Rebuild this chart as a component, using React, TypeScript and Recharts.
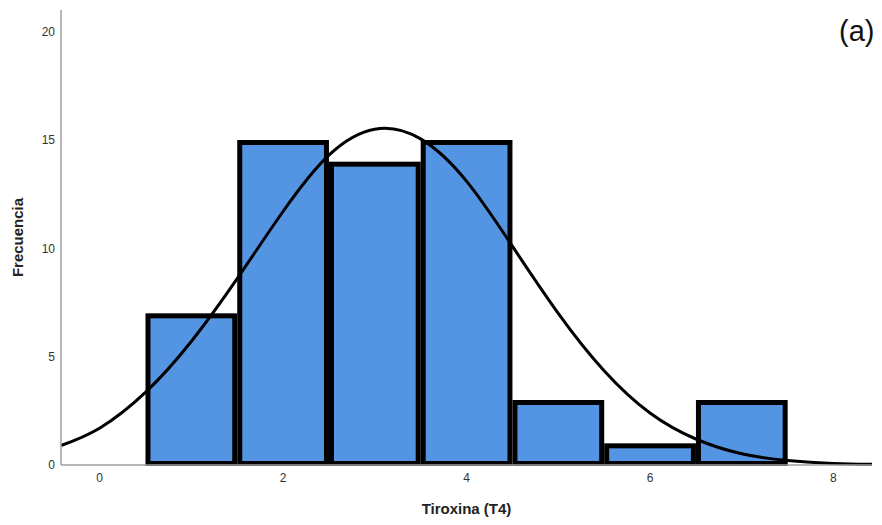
import { Bar, ComposedChart, Line, XAxis, YAxis } from "recharts";

// histogram bins (bin centres, width 1)
const binCenters = [1, 2, 3, 4, 5, 6, 7];
const binCounts = [7, 15, 14, 15, 3, 1, 3];

// normal curve
const curveX = [-0.42, 0, 0.5, 1, 1.5, 2, 2.5, 3, 3.5, 4, 4.5, 5, 5.5, 6, 6.5, 7, 7.5, 8, 8.42];
const curveY = [0.9, 1.7, 3.35, 5.7, 8.6, 11.7, 14.3, 15.5, 15.05, 13.1, 10.1, 7.0, 4.35, 2.4, 1.2, 0.52, 0.21, 0.07, 0.03];

const xTicks = [0, 2, 4, 6, 8];
const yTicks = [0, 5, 10, 15, 20];

const X_MIN = -0.42;
const X_MAX = 8.42;
const Y_MAX = 21;
const BIN_WIDTH = 1;

const WIDTH = 882;
const HEIGHT = 525;
const MARGIN = { top: 10, right: 10, bottom: 0, left: 0 };
const Y_AXIS_W = 61;
const X_AXIS_H = 60;
const PLOT_W = WIDTH - MARGIN.left - MARGIN.right - Y_AXIS_W;

const FONT = "Arial, 'Liberation Sans', sans-serif";

const bins = binCenters.map((x, i) => ({ x, count: binCounts[i] }));
const curve = curveX.map((x, i) => ({ x, y: curveY[i] }));

// pixel width of one bin, from the x scale's range and domain
const BIN_PX = (PLOT_W / (X_MAX - X_MIN)) * BIN_WIDTH;

function BinRect(props: any) {
  const { x, y, width, height } = props;
  const sw = 5;
  if (!height) return null;
  const cx = x + width / 2;
  const left = cx - BIN_PX / 2;
  return (
    <rect
      x={left + sw / 2}
      y={y + sw / 2}
      width={BIN_PX - sw}
      height={height - sw + 1}
      fill="#5394e3"
      stroke="#000"
      strokeWidth={sw}
    />
  );
}

export default function App() {
  return (
    <div style={{ position: "absolute", left: 0, top: 0, width: WIDTH, height: HEIGHT, fontFamily: FONT }}>
      <ComposedChart width={WIDTH} height={HEIGHT} data={bins} margin={MARGIN}>
        <XAxis
          type="number"
          dataKey="x"
          domain={[X_MIN, X_MAX]}
          ticks={xTicks}
          tickLine={false}
          height={X_AXIS_H}
          axisLine={{ stroke: "#a0a0a0", strokeWidth: 1.5 }}
          tick={{ fontSize: 12, fill: "#333", fontFamily: FONT }}
          label={{
            value: "Tiroxina (T4)",
            position: "insideBottom",
            offset: 11,
            style: { fontSize: 15, fontWeight: "bold", fill: "#222", fontFamily: FONT },
          }}
        />
        <YAxis
          type="number"
          domain={[0, Y_MAX]}
          ticks={yTicks}
          tickLine={false}
          width={Y_AXIS_W}
          tickMargin={0}
          axisLine={{ stroke: "#a0a0a0", strokeWidth: 1.5 }}
          tick={{ fontSize: 12, fill: "#333", fontFamily: FONT }}
          label={{
            value: "Frecuencia",
            angle: -90,
            position: "insideLeft",
            offset: 18,
            style: { textAnchor: "middle", fontSize: 15, fontWeight: "bold", fill: "#222", fontFamily: FONT },
          }}
        />
        <Bar dataKey="count" shape={<BinRect />} isAnimationActive={false} />
        <Line
          data={curve}
          dataKey="y"
          type="natural"
          stroke="#000"
          strokeWidth={3}
          dot={false}
          activeDot={false}
          isAnimationActive={false}
        />
      </ComposedChart>
      <div
        style={{
          position: "absolute",
          left: 839,
          top: 17,
          fontSize: 29,
          color: "#111",
          fontFamily: FONT,
          lineHeight: 1,
        }}
      >
        (a)
      </div>
    </div>
  );
}
